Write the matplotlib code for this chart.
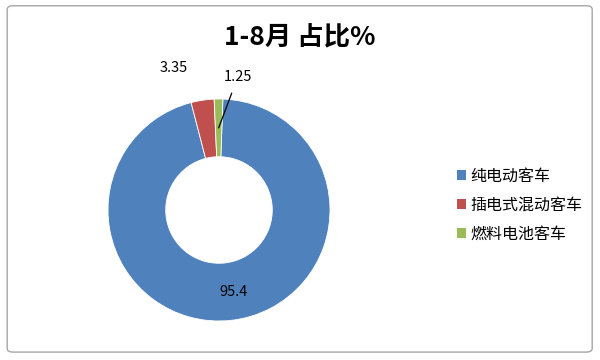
import numpy as np
import matplotlib.pyplot as plt
from matplotlib.patches import FancyBboxPatch, Patch

plt.rcParams['font.family'] = ['Noto Sans CJK SC', 'DejaVu Sans']

categories = ['纯电动客车', '插电式混动客车', '燃料电池客车']
shares = [95.4, 3.35, 1.25]
labels = ['95.4', '3.35', '1.25']
colors = ['#4F81BD', '#C0504D', '#9BBB59']

fig = plt.figure(figsize=(6, 3.6), dpi=100)

# grey frame round the chart area
frame = FancyBboxPatch((0.012, 0.022), 0.975, 0.962, boxstyle='round,pad=0,rounding_size=0.01',
                       transform=fig.transFigure, facecolor='none', edgecolor='#A6A6A6',
                       linewidth=1, zorder=-1)
fig.patches.append(frame)

ax = fig.add_axes([108 / 600, 39 / 360, 222 / 600, 222 / 360])
wedges, _ = ax.pie(shares, colors=colors, startangle=88, counterclock=False,
                   wedgeprops=dict(width=0.52, edgecolor='white', linewidth=0.6))
ax.set_xlim(-1, 1)
ax.set_ylim(-1, 1)
ax.set_aspect('equal')

# data labels
mid = [(w.theta1 + w.theta2) / 2 for w in wedges]
r = 0.74
a = np.deg2rad(mid[0])
ax.text(r * np.cos(a) + 0.05, r * np.sin(a), labels[0], ha='center', va='center', fontsize=10.5)
a = np.deg2rad(mid[1])
ax.text(r * np.cos(a) - 0.3, r * np.sin(a) + 0.55, labels[1], ha='center', va='center', fontsize=10.5)
a = np.deg2rad(mid[2])
ax.annotate(labels[2], xy=(r * np.cos(a), r * np.sin(a)), xytext=(0.17, 1.2),
            ha='center', va='center', fontsize=10.5,
            arrowprops=dict(arrowstyle='-', color='black', lw=0.9, shrinkA=5, shrinkB=0))

fig.text(0.5, 0.895, '1-8月 占比%', ha='center', va='center', fontsize=19, fontweight='bold')

handles = [Patch(facecolor=c, edgecolor='none') for c in colors]
fig.legend(handles, categories, loc='center left', bbox_to_anchor=(443 / 600, 1 - 205 / 360),
           frameon=False, fontsize=11.5, handlelength=0.55, handleheight=0.55,
           handletextpad=0.25, labelspacing=0.75)

fig.savefig('out.png', dpi=100)
